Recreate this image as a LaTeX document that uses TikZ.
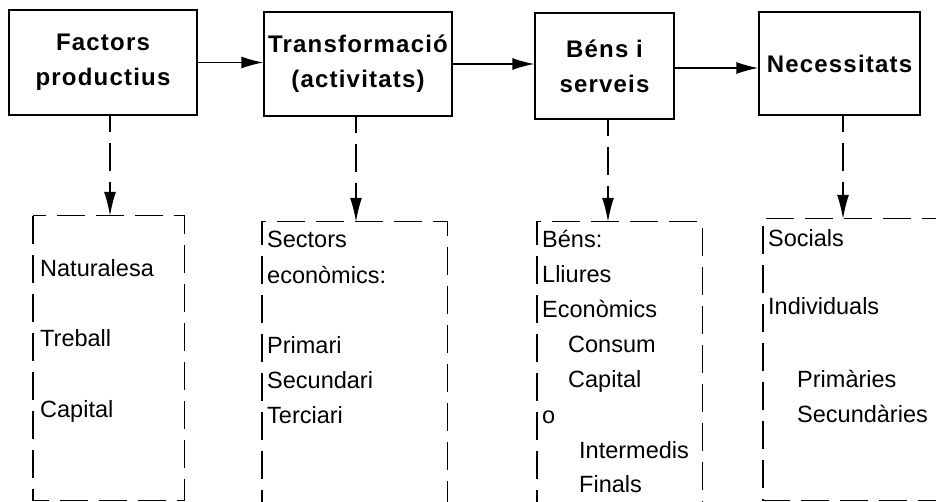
\documentclass[tikz,border=0pt]{standalone}
\usepackage{fontspec}
\setmainfont{Liberation Sans}
\newfontfamily\topfont[LetterSpace=5]{Liberation Sans}
\usetikzlibrary{arrows.meta}
\begin{document}
\begin{tikzpicture}[x=1pt,y=-1pt,
  topbox/.style={draw, line width=1.4pt, inner sep=0pt, align=center,
    font=\topfont\bfseries\fontsize{24}{35}\selectfont},
  dbox/.style={inner sep=0pt, draw=none},
  dline/.style={line width=1.4pt, dash pattern=on 28pt off 11pt},
  harrow/.style={line width=1.4pt, -{Latex[length=22pt,width=12pt]}},
  varrow/.style={line width=1.4pt, dash pattern=on 16pt off 11pt on 28pt off 11pt, -{Latex[length=24pt,width=12pt]}},
  txt/.style={anchor=base west, inner sep=0pt, font=\fontsize{23.5}{28}\selectfont}]
\clip (0,0) rectangle (936,502);
\useasboundingbox (0,0) rectangle (936,502);
% top boxes
\node[topbox, minimum width=188pt, minimum height=105pt] (b1) at (103,62.5) {Factors\\productius};
\node[topbox, minimum width=188pt, minimum height=104pt] (b2) at (358,64) {Transformació\\(activitats)};
\node[topbox, minimum width=139pt, minimum height=106pt] (b3) at (604.5,66) {Béns i\\serveis};
\node[topbox, minimum width=161pt, minimum height=103pt] (b4) at (839.5,63.5) {Necessitats};
% horizontal arrows
\draw[harrow] (b1.east) -- (b1.east -| b2.west);
\draw[harrow] (b2.east) -- (b2.east -| b3.west);
\draw[harrow] ([yshift=-2pt]b3.east) -- ([yshift=-2pt]b3.east -| b4.west);
% dashed boxes
\node[dbox, minimum width=151pt, minimum height=284pt] (d1) at (108.5,358) {};
\node[dbox, minimum width=185pt, minimum height=296pt] (d2) at (354.5,370) {};
\node[dbox, minimum width=165pt, minimum height=296pt] (d3) at (619.5,370) {};
\node[dbox, minimum width=187pt, minimum height=281pt] (d4) at (856.5,359.5) {};
\draw[dline] (d1.north west) rectangle (d1.south east);
\draw[dline] (d2.south west) -- (d2.north west) -- (d2.north east) -- (d2.south east);
\draw[dline] (d3.south west) -- (d3.north west) -- (d3.north east) -- (d3.south east);
\draw[dline] (d4.north east) -- (d4.north west) -- (d4.south west) -- (d4.south east);
% vertical dashed arrows
\draw[varrow] ([xshift=7pt]b1.south) -- ([xshift=7pt]b1.south |- d1.north);
\draw[varrow] ([xshift=-2pt]b2.south) -- ([xshift=-2pt]b2.south |- d2.north);
\draw[varrow] ([xshift=3.5pt]b3.south) -- ([xshift=3.5pt]b3.south |- d3.north);
\draw[varrow] ([xshift=3.5pt]b4.south) -- ([xshift=3.5pt]b4.south |- d4.north);
% texts box 1
\node[txt] (t11) at (40,277) {Naturalesa};
\node[txt] (t12) at (40,346) {Treball};
\node[txt] (t13) at (40,417) {Capital};
% texts box 2
\node[txt] (t21) at (267,248) {Sectors};
\node[txt] (t22) at (267,284) {econòmics:};
\node[txt] (t23) at (267,353) {Primari};
\node[txt] (t24) at (267,388) {Secundari};
\node[txt] (t25) at (267,423) {Terciari};
% texts box 3
\node[txt] (t31) at (542,248) {Béns:};
\node[txt] (t32) at (542,283) {Lliures};
\node[txt] (t33) at (542,317) {Econòmics};
\node[txt] (t34) at (568,352) {Consum};
\node[txt] (t35) at (568,387) {Capital};
\node[txt] (t36) at (542,423) {o};
\node[txt] (t37) at (579,458) {Intermedis};
\node[txt] (t38) at (579,492) {Finals};
% texts box 4
\node[txt] (t41) at (768,247) {Socials};
\node[txt] (t42) at (768,315) {Individuals};
\node[txt] (t43) at (797,387) {Primàries};
\node[txt] (t44) at (797,422) {Secundàries};
\end{tikzpicture}
\end{document}
